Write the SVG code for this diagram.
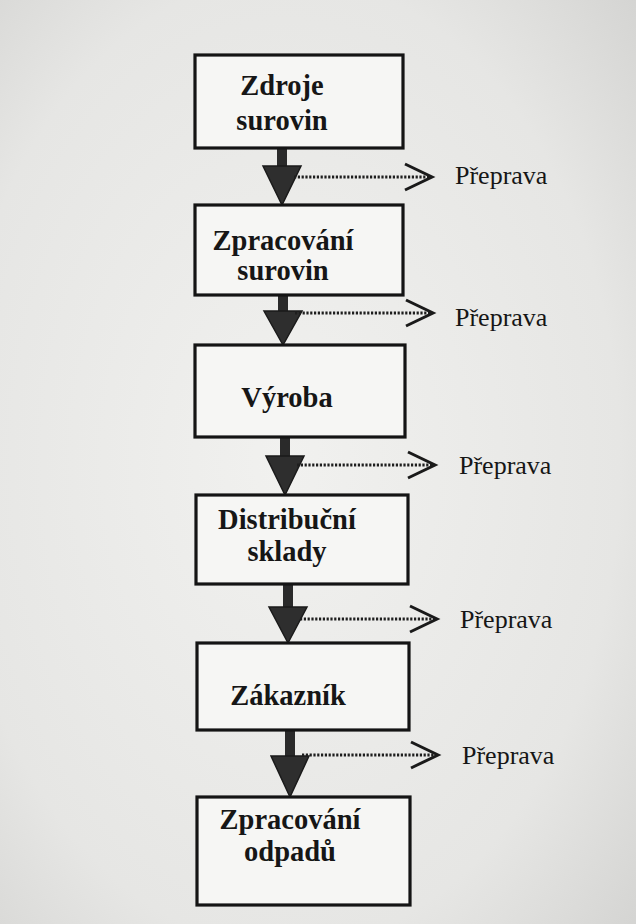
<svg xmlns="http://www.w3.org/2000/svg" width="636" height="924" viewBox="0 0 636 924">
<defs>
<radialGradient id="paper" cx="0.45" cy="0.5" r="0.75">
<stop offset="0" stop-color="#f1f1ef"/>
<stop offset="0.7" stop-color="#e6e6e4"/>
<stop offset="1" stop-color="#d4d4d2"/>
</radialGradient>
<style>
.box{fill:#f6f6f4;stroke:#141414;stroke-width:3.2}
.lbl{font-family:"Liberation Serif","Times New Roman",serif;font-weight:bold;font-size:28.5px;fill:#161616;text-anchor:middle}
.tr{font-family:"Liberation Serif","Times New Roman",serif;font-size:26px;fill:#161616}
.shaft{stroke:#2a2a2a;stroke-width:10;fill:none}
.head{fill:#2e2e2e;stroke:#1a1a1a;stroke-width:1.5;stroke-linejoin:miter}
.dot{stroke:#1e1e1e;stroke-width:3;stroke-dasharray:2.2 1.6;fill:none}
.chev{stroke:#1a1a1a;stroke-width:3;fill:none;stroke-linejoin:miter}
</style>
</defs>
<rect x="0" y="0" width="636" height="924" fill="url(#paper)"/>

<g id="connectors">
<line class="shaft" x1="282" y1="148" x2="282" y2="167"/>
<polygon class="head" points="263,166 301,166 282,205"/>
<line class="dot" x1="294" y1="177" x2="430" y2="177"/>
<polyline class="chev" points="405,164 432,177 405,190"/>

<line class="shaft" x1="283" y1="295" x2="283" y2="312"/>
<polygon class="head" points="264,311 302,311 283,345"/>
<line class="dot" x1="295" y1="313" x2="431" y2="313"/>
<polyline class="chev" points="406,300 433,313 406,326"/>

<line class="shaft" x1="285" y1="437" x2="285" y2="457"/>
<polygon class="head" points="266,456 304,456 285,495"/>
<line class="dot" x1="297" y1="465" x2="433" y2="465"/>
<polyline class="chev" points="408,452 435,465 408,478"/>

<line class="shaft" x1="288" y1="584" x2="288" y2="608"/>
<polygon class="head" points="269,607 307,607 288,643"/>
<line class="dot" x1="300" y1="619" x2="435" y2="619"/>
<polyline class="chev" points="410,606 437,619 410,632"/>

<line class="shaft" x1="290" y1="730" x2="290" y2="757"/>
<polygon class="head" points="271,756 309,756 290,797"/>
<line class="dot" x1="302" y1="755" x2="436" y2="755"/>
<polyline class="chev" points="411,742 438,755 411,768"/>

<text class="tr" x="455" y="184">Přeprava</text>
<text class="tr" x="455" y="326">Přeprava</text>
<text class="tr" x="459" y="474">Přeprava</text>
<text class="tr" x="460" y="628">Přeprava</text>
<text class="tr" x="462" y="764">Přeprava</text>
</g>

<g id="zdroje">
<rect class="box" x="195" y="55" width="208" height="93"/>
<text class="lbl" x="282" y="95">Zdroje</text>
<text class="lbl" x="282" y="130">surovin</text>
</g>
<g id="zpracovani-surovin">
<rect class="box" x="195" y="205" width="208" height="90"/>
<text class="lbl" x="283" y="250">Zpracování</text>
<text class="lbl" x="283" y="280">surovin</text>
</g>
<g id="vyroba">
<rect class="box" x="195" y="345" width="210" height="92"/>
<text class="lbl" x="287" y="407">Výroba</text>
</g>
<g id="distribucni-sklady">
<rect class="box" x="196" y="495" width="212" height="89"/>
<text class="lbl" x="287" y="529">Distribuční</text>
<text class="lbl" x="287" y="561">sklady</text>
</g>
<g id="zakaznik">
<rect class="box" x="197" y="643" width="212" height="87"/>
<text class="lbl" x="288" y="705">Zákazník</text>
</g>
<g id="zpracovani-odpadu">
<rect class="box" x="197" y="797" width="213" height="108"/>
<text class="lbl" x="290" y="829">Zpracování</text>
<text class="lbl" x="290" y="861">odpadů</text>
</g>
</svg>
